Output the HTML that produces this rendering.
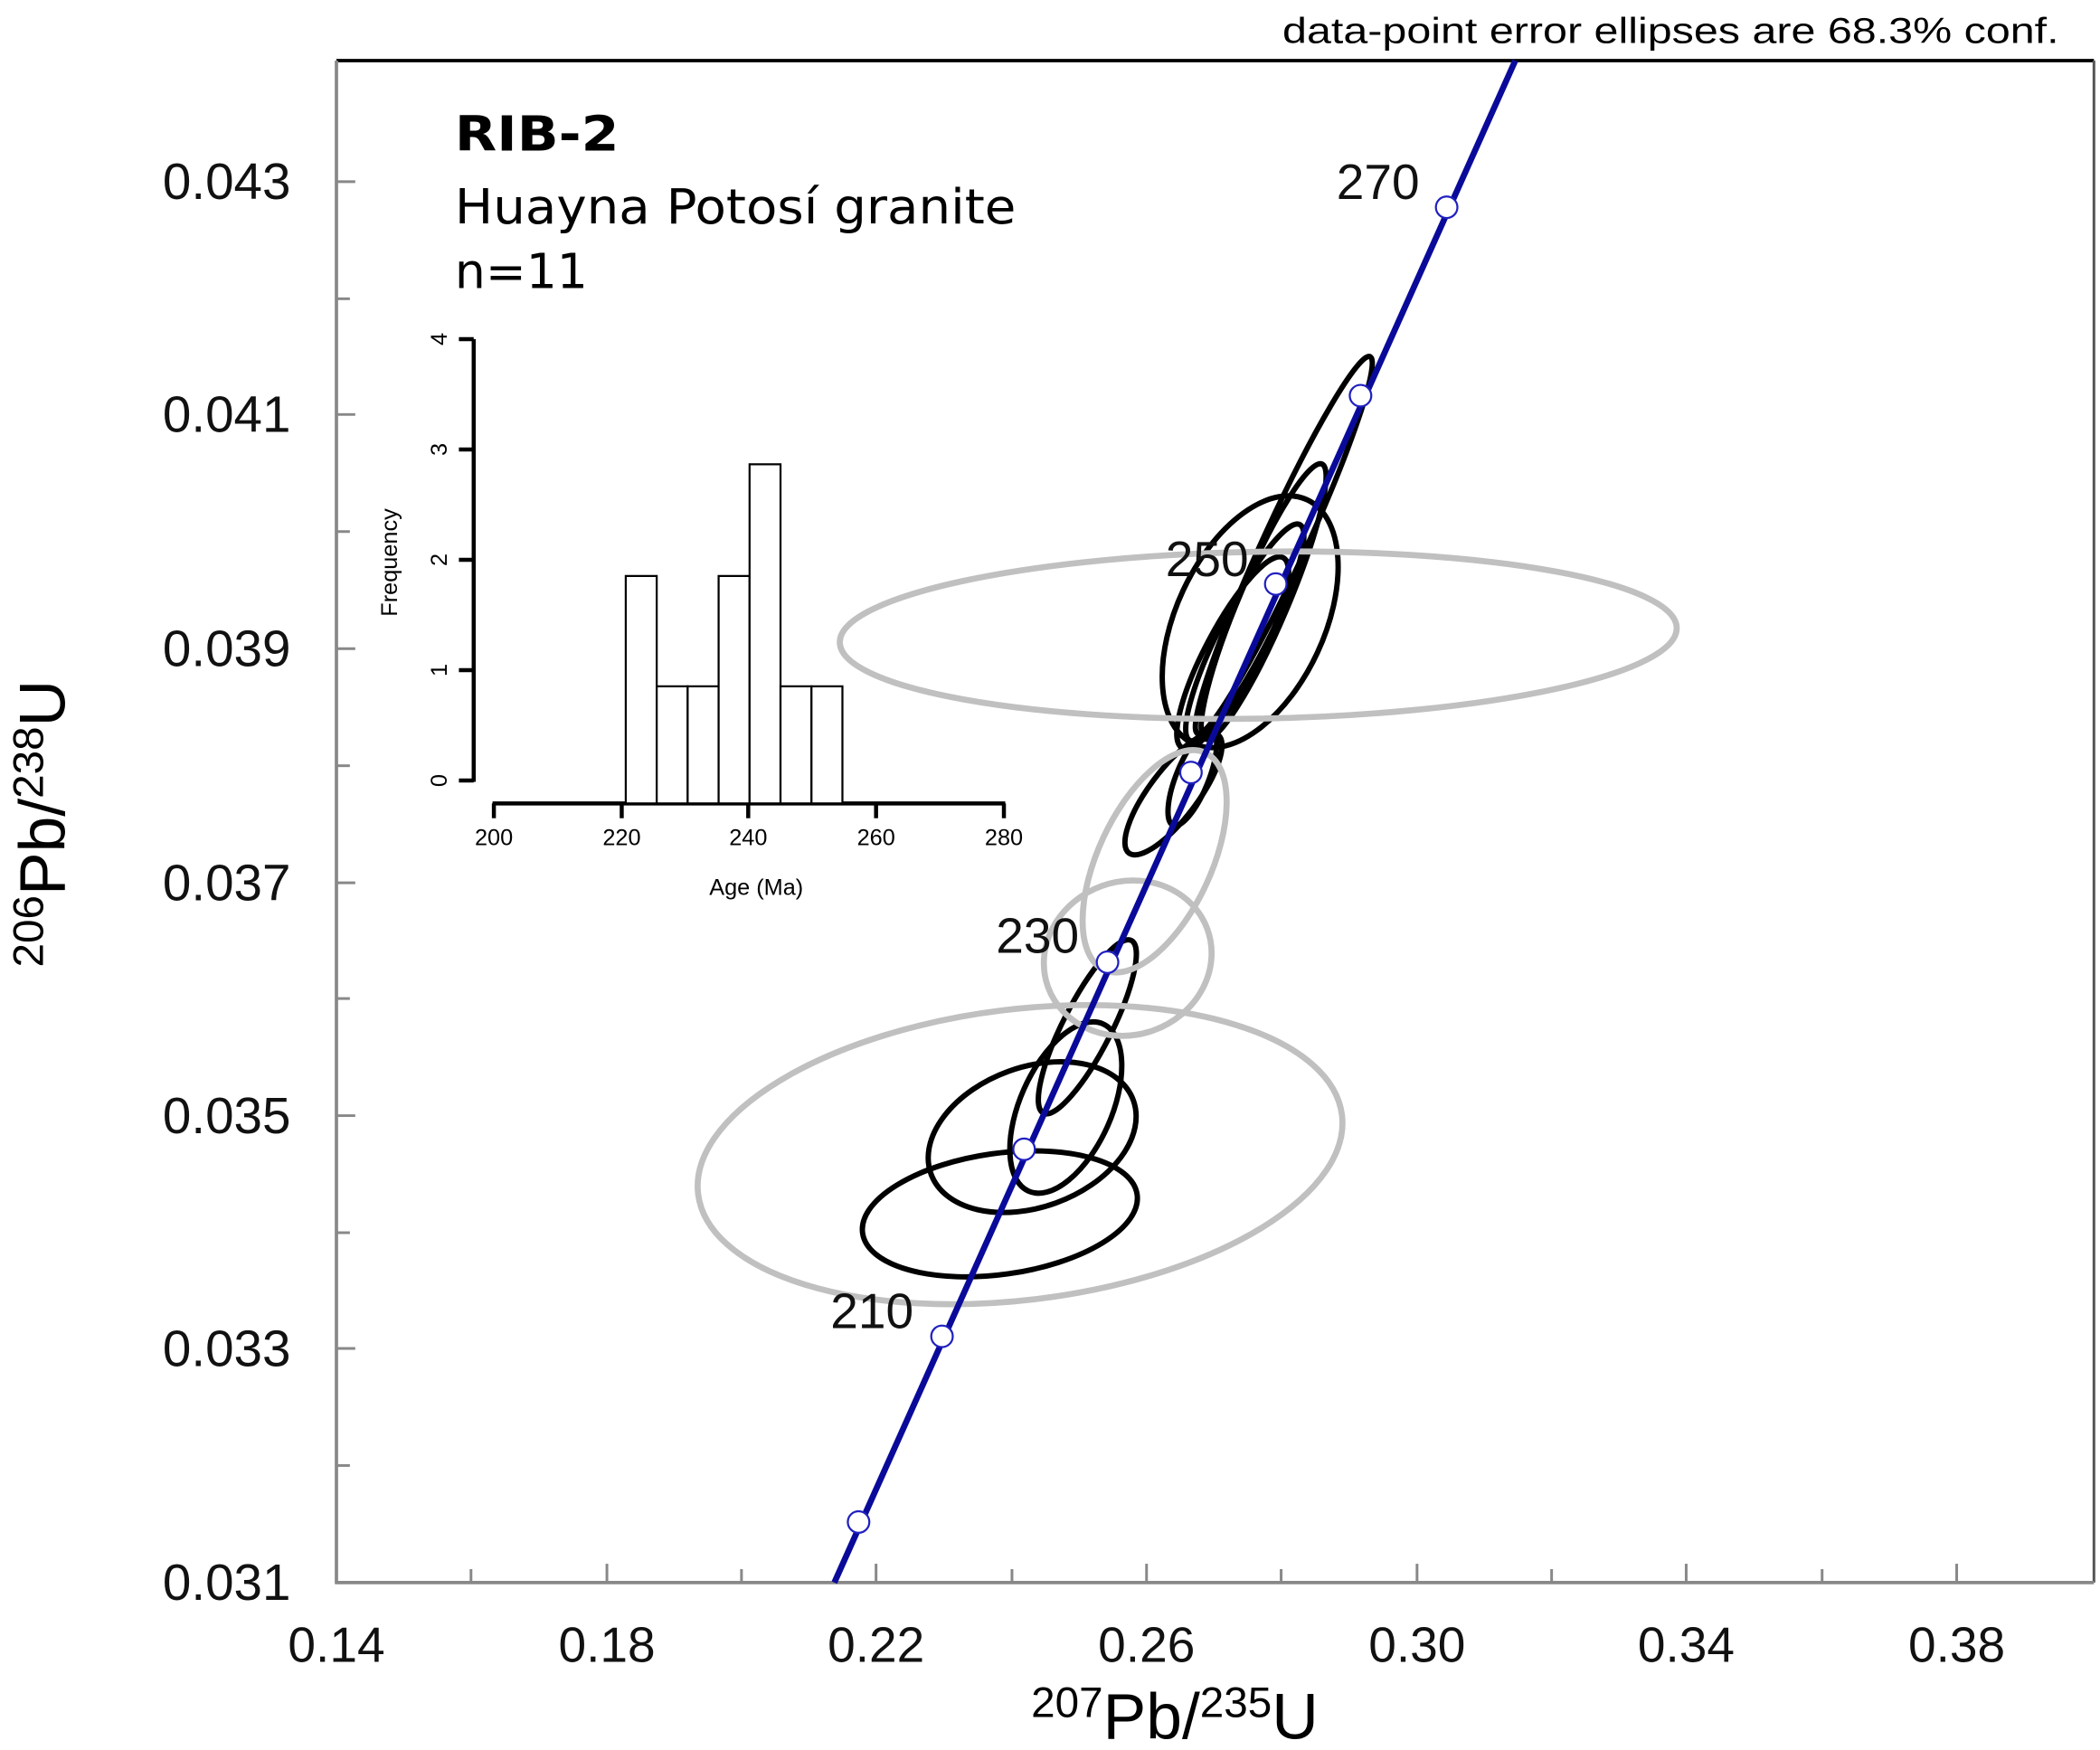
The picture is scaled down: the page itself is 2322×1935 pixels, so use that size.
<!DOCTYPE html>
<html><head><meta charset="utf-8"><style>html,body{margin:0;padding:0;background:#fff}svg{display:block}</style></head>
<body>
<svg width="2322" height="1935" viewBox="0 0 1560.5 1300.4" preserveAspectRatio="none" xmlns="http://www.w3.org/2000/svg" font-family="Liberation Sans, sans-serif">
<rect width="1560.5" height="1300.4" fill="#fff"/>
<text x="1530" y="32" font-size="27" text-anchor="end" textLength="577" lengthAdjust="spacingAndGlyphs">data-point error ellipses are 68.3% conf.</text>
<line x1="250" y1="45" x2="1556" y2="45" stroke="#000" stroke-width="2.5"/>
<line x1="1556" y1="45" x2="1556" y2="1176" stroke="#555" stroke-width="2"/>
<line x1="250" y1="45" x2="250" y2="1177" stroke="#888" stroke-width="2.5"/>
<line x1="249" y1="1176" x2="1556" y2="1176" stroke="#888" stroke-width="2.5"/>
<g stroke="#888" stroke-width="2">
<line x1="451" y1="1176" x2="451" y2="1162"/><line x1="651" y1="1176" x2="651" y2="1162"/><line x1="852" y1="1176" x2="852" y2="1162"/><line x1="1053" y1="1176" x2="1053" y2="1162"/><line x1="1253" y1="1176" x2="1253" y2="1162"/><line x1="1454" y1="1176" x2="1454" y2="1162"/>
<line x1="350" y1="1176" x2="350" y2="1166"/><line x1="551" y1="1176" x2="551" y2="1166"/><line x1="752" y1="1176" x2="752" y2="1166"/><line x1="952" y1="1176" x2="952" y2="1166"/><line x1="1153" y1="1176" x2="1153" y2="1166"/><line x1="1354" y1="1176" x2="1354" y2="1166"/>
<line x1="250" y1="135" x2="264" y2="135"/><line x1="250" y1="308" x2="264" y2="308"/><line x1="250" y1="482" x2="264" y2="482"/><line x1="250" y1="656" x2="264" y2="656"/><line x1="250" y1="829" x2="264" y2="829"/><line x1="250" y1="1002" x2="264" y2="1002"/>
<line x1="250" y1="222" x2="260" y2="222"/><line x1="250" y1="395" x2="260" y2="395"/><line x1="250" y1="569" x2="260" y2="569"/><line x1="250" y1="742" x2="260" y2="742"/><line x1="250" y1="916" x2="260" y2="916"/><line x1="250" y1="1089" x2="260" y2="1089"/>
</g>
<g font-size="38" text-anchor="end" fill="#111">
<text x="216" y="148">0.043</text><text x="216" y="321">0.041</text><text x="216" y="495">0.039</text><text x="216" y="669">0.037</text><text x="216" y="842">0.035</text><text x="216" y="1015">0.033</text><text x="216" y="1189">0.031</text>
</g>
<g font-size="37" text-anchor="middle" fill="#111">
<text x="250" y="1235">0.14</text><text x="451" y="1235">0.18</text><text x="651" y="1235">0.22</text><text x="852" y="1235">0.26</text><text x="1053" y="1235">0.30</text><text x="1253" y="1235">0.34</text><text x="1454" y="1235">0.38</text>
</g>
<text x="873" y="1292" text-anchor="middle" font-size="48"><tspan font-size="32" dy="-16">207</tspan><tspan dy="16">Pb/</tspan><tspan font-size="32" dy="-16">235</tspan><tspan dy="16">U</tspan></text>
<text transform="translate(48,612) rotate(-90)" text-anchor="middle" font-size="48"><tspan font-size="32" dy="-16">206</tspan><tspan dy="16">Pb/</tspan><tspan font-size="32" dy="-16">238</tspan><tspan dy="16">U</tspan></text>
<g font-family="DejaVu Sans, sans-serif" font-size="36">
<text x="338" y="112" font-weight="bold" textLength="122" lengthAdjust="spacingAndGlyphs">RIB-2</text>
<text x="338" y="166" textLength="417" lengthAdjust="spacingAndGlyphs">Huayna Potosí granite</text>
<text x="338" y="214">n=11</text>
</g>
<g stroke="#000">
<line x1="352" y1="252" x2="352" y2="581" stroke-width="3"/>
<g stroke-width="3"><line x1="341" y1="252" x2="352" y2="252"/><line x1="341" y1="334" x2="352" y2="334"/><line x1="341" y1="416" x2="352" y2="416"/><line x1="341" y1="498" x2="352" y2="498"/><line x1="341" y1="580" x2="352" y2="580"/></g>
<line x1="366" y1="597" x2="747" y2="597" stroke-width="3"/>
<g stroke-width="3"><line x1="367" y1="597" x2="367" y2="608"/><line x1="462" y1="597" x2="462" y2="608"/><line x1="556" y1="597" x2="556" y2="608"/><line x1="651" y1="597" x2="651" y2="608"/><line x1="746" y1="597" x2="746" y2="608"/></g>
<g fill="#fff" stroke-width="1.5">
<rect x="465" y="428" width="23" height="169"/><rect x="488" y="510" width="23" height="87"/><rect x="511" y="510" width="23" height="87"/><rect x="534" y="428" width="23" height="169"/><rect x="557" y="345" width="23" height="252"/><rect x="580" y="510" width="23" height="87"/><rect x="603" y="510" width="23" height="87"/>
</g>
</g>
<g font-size="17" text-anchor="middle">
<text transform="translate(332,580) rotate(-90)">0</text><text transform="translate(332,498) rotate(-90)">1</text><text transform="translate(332,416) rotate(-90)">2</text><text transform="translate(332,334) rotate(-90)">3</text><text transform="translate(332,252) rotate(-90)">4</text>
<text transform="translate(295,418) rotate(-90)">Frequency</text>
<text x="367" y="628">200</text><text x="462" y="628">220</text><text x="556" y="628">240</text><text x="651" y="628">260</text><text x="746" y="628">280</text>
<text x="562" y="665">Age (Ma)</text>
</g>
<g fill="none" stroke="#000" stroke-width="4">
<ellipse cx="743" cy="902" rx="103" ry="45" transform="rotate(-8 743 902)"/>
<ellipse cx="767" cy="845" rx="80" ry="52" transform="rotate(-20 767 845)"/>
<ellipse cx="792" cy="823" rx="34" ry="68" transform="rotate(24 792 823)"/>
<ellipse cx="808" cy="763" rx="18" ry="72" transform="rotate(27 808 763)"/>
<ellipse cx="872" cy="590" rx="18" ry="55" transform="rotate(37 872 590)"/>
<ellipse cx="886" cy="578" rx="12" ry="38" transform="rotate(22 886 578)"/>
<ellipse cx="929" cy="462" rx="55" ry="100" transform="rotate(25 929 462)"/>
<ellipse cx="916" cy="485" rx="20" ry="80" transform="rotate(28 916 485)"/>
<ellipse cx="925" cy="470" rx="18" ry="90" transform="rotate(27 925 470)"/>
<ellipse cx="939" cy="447" rx="18" ry="111" transform="rotate(23 939 447)"/>
<ellipse cx="954" cy="405" rx="16" ry="154" transform="rotate(24.6 954 405)"/>
</g>
<g fill="none" stroke="#c0c0c0" stroke-width="4.5">
<ellipse cx="935" cy="472" rx="311" ry="62" transform="rotate(-1 935 472)"/>
<ellipse cx="758" cy="858" rx="241" ry="108" transform="rotate(-7 758 858)"/>
<ellipse cx="858" cy="640" rx="42" ry="89" transform="rotate(25 858 640)"/>
<ellipse cx="838" cy="712" rx="63" ry="57" transform="rotate(-20 838 712)"/>
</g>
<line x1="620" y1="1176" x2="1126" y2="45" stroke="#0a0a9a" stroke-width="4.5"/>
<g fill="#fff" stroke="#2020c0" stroke-width="1.5">
<circle cx="638" cy="1131" r="8"/><circle cx="700" cy="993" r="8"/><circle cx="761" cy="854" r="8"/><circle cx="823" cy="715" r="8"/><circle cx="885" cy="574" r="8"/><circle cx="948" cy="434" r="8"/><circle cx="1011" cy="294" r="8"/><circle cx="1075" cy="154" r="8"/>
</g>
<g font-size="37" text-anchor="middle" fill="#111">
<text x="1024" y="148">270</text><text x="897" y="428">250</text><text x="771" y="708">230</text><text x="648" y="987">210</text>
</g>
</svg>
</body></html>
